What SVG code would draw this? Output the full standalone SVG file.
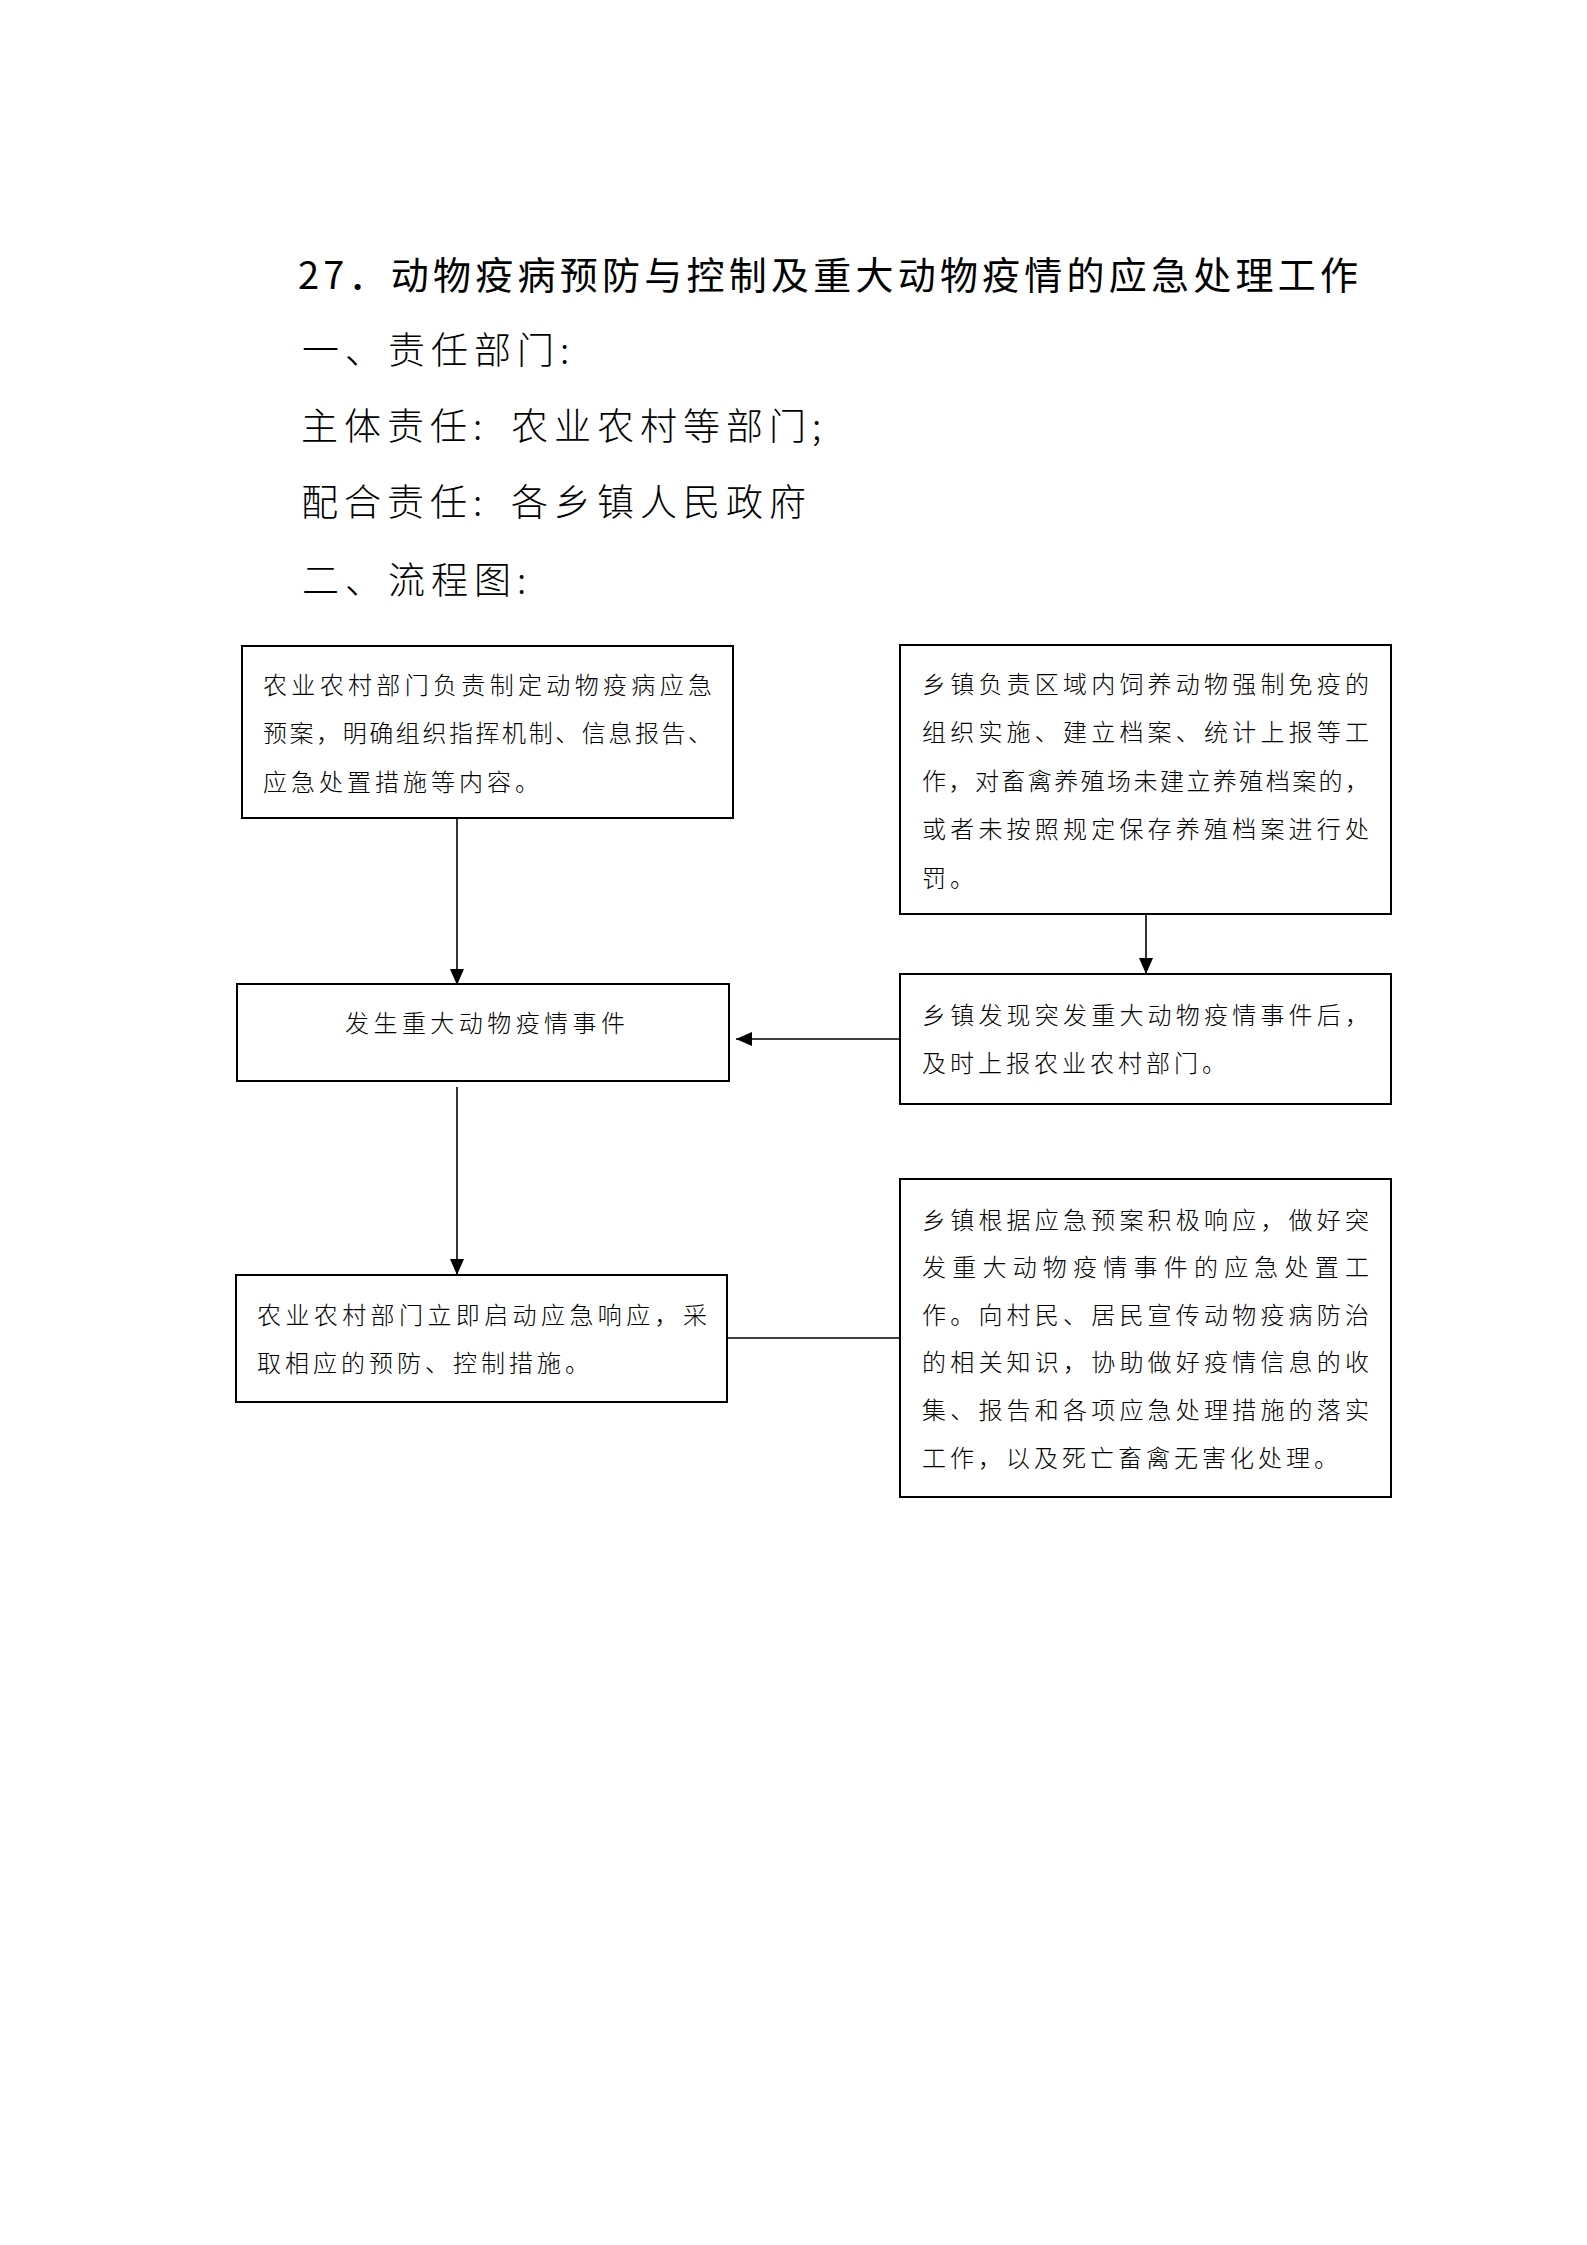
<svg xmlns="http://www.w3.org/2000/svg" width="1587" height="2245" viewBox="0 0 1587 2245">
<style>
.title{font-family:"Noto Sans CJK SC","Noto Sans CJK JP",sans-serif;font-size:38px;fill:#000}
.head{font-family:"Noto Sans CJK SC","Noto Sans CJK JP",sans-serif;font-size:37px;fill:#000;font-weight:300;letter-spacing:6px}
.box{fill:#fff;stroke:#000;stroke-width:2}
.t{font-family:"Noto Sans CJK SC","Noto Sans CJK JP",sans-serif;font-size:24px;fill:#000;font-weight:300}
.ls{letter-spacing:4px}
.conn{stroke:#000;stroke-width:1.6;fill:none}
</style>
<defs>
<marker id="arr" markerUnits="userSpaceOnUse" markerWidth="16" markerHeight="14" refX="16" refY="7" orient="auto">
<path d="M0,0 L16,7 L0,14 z" fill="#000"/>
</marker>
</defs>
<rect width="1587" height="2245" fill="#fff"/>
<g id="header">
<text class="title" x="298" y="289" textLength="1060" lengthAdjust="spacing">27．动物疫病预防与控制及重大动物疫情的应急处理工作</text>
<text class="head" x="302" y="364">一、责任部门:</text>
<text class="head" y="440"><tspan x="301">主体责任:</tspan><tspan x="511">农业农村等部门;</tspan></text>
<text class="head" y="516"><tspan x="301">配合责任:</tspan><tspan x="511">各乡镇人民政府</tspan></text>
<text class="head" x="302" y="594">二、流程图:</text>
</g>
<g id="connectors">
<line class="conn" x1="457" y1="818" x2="457" y2="985" marker-end="url(#arr)"/>
<line class="conn" x1="1146" y1="914" x2="1146" y2="974" marker-end="url(#arr)"/>
<line class="conn" x1="900" y1="1039" x2="736" y2="1039" marker-end="url(#arr)"/>
<line class="conn" x1="457" y1="1087" x2="457" y2="1275" marker-end="url(#arr)"/>
<line class="conn" x1="727" y1="1338" x2="900" y2="1338"/>
</g>
<g id="node1">
<rect class="box" x="242" y="646" width="491" height="172"/>
<text class="t" x="263" y="694" textLength="449" lengthAdjust="spacing">农业农村部门负责制定动物疫病应急</text>
<text class="t" x="263" y="742" textLength="449" lengthAdjust="spacing">预案，明确组织指挥机制、信息报告、</text>
<text class="t ls" x="263" y="791">应急处置措施等内容。</text>
</g>
<g id="node2">
<rect class="box" x="237" y="984" width="492" height="97"/>
<text class="t" x="345" y="1032" textLength="280" lengthAdjust="spacing">发生重大动物疫情事件</text>
</g>
<g id="node3">
<rect class="box" x="236" y="1275" width="491" height="127"/>
<text class="t" x="257" y="1324" textLength="450" lengthAdjust="spacing">农业农村部门立即启动应急响应，采</text>
<text class="t ls" x="257" y="1372">取相应的预防、控制措施。</text>
</g>
<g id="node4">
<rect class="box" x="900" y="645" width="491" height="269"/>
<text class="t" x="922" y="693" textLength="447" lengthAdjust="spacing">乡镇负责区域内饲养动物强制免疫的</text>
<text class="t" x="922" y="741" textLength="447" lengthAdjust="spacing">组织实施、建立档案、统计上报等工</text>
<text class="t" x="922" y="790" textLength="447" lengthAdjust="spacing">作，对畜禽养殖场未建立养殖档案的，</text>
<text class="t" x="922" y="838" textLength="447" lengthAdjust="spacing">或者未按照规定保存养殖档案进行处</text>
<text class="t ls" x="922" y="887">罚。</text>
</g>
<g id="node5">
<rect class="box" x="900" y="974" width="491" height="130"/>
<text class="t" x="922" y="1024" textLength="447" lengthAdjust="spacing">乡镇发现突发重大动物疫情事件后，</text>
<text class="t ls" x="922" y="1072">及时上报农业农村部门。</text>
</g>
<g id="node6">
<rect class="box" x="900" y="1179" width="491" height="318"/>
<text class="t" x="922" y="1229" textLength="447" lengthAdjust="spacing">乡镇根据应急预案积极响应，做好突</text>
<text class="t" x="922" y="1276" textLength="447" lengthAdjust="spacing">发重大动物疫情事件的应急处置工</text>
<text class="t" x="922" y="1324" textLength="447" lengthAdjust="spacing">作。向村民、居民宣传动物疫病防治</text>
<text class="t" x="922" y="1371" textLength="447" lengthAdjust="spacing">的相关知识，协助做好疫情信息的收</text>
<text class="t" x="922" y="1419" textLength="447" lengthAdjust="spacing">集、报告和各项应急处理措施的落实</text>
<text class="t ls" x="922" y="1467">工作，以及死亡畜禽无害化处理。</text>
</g>
</svg>
